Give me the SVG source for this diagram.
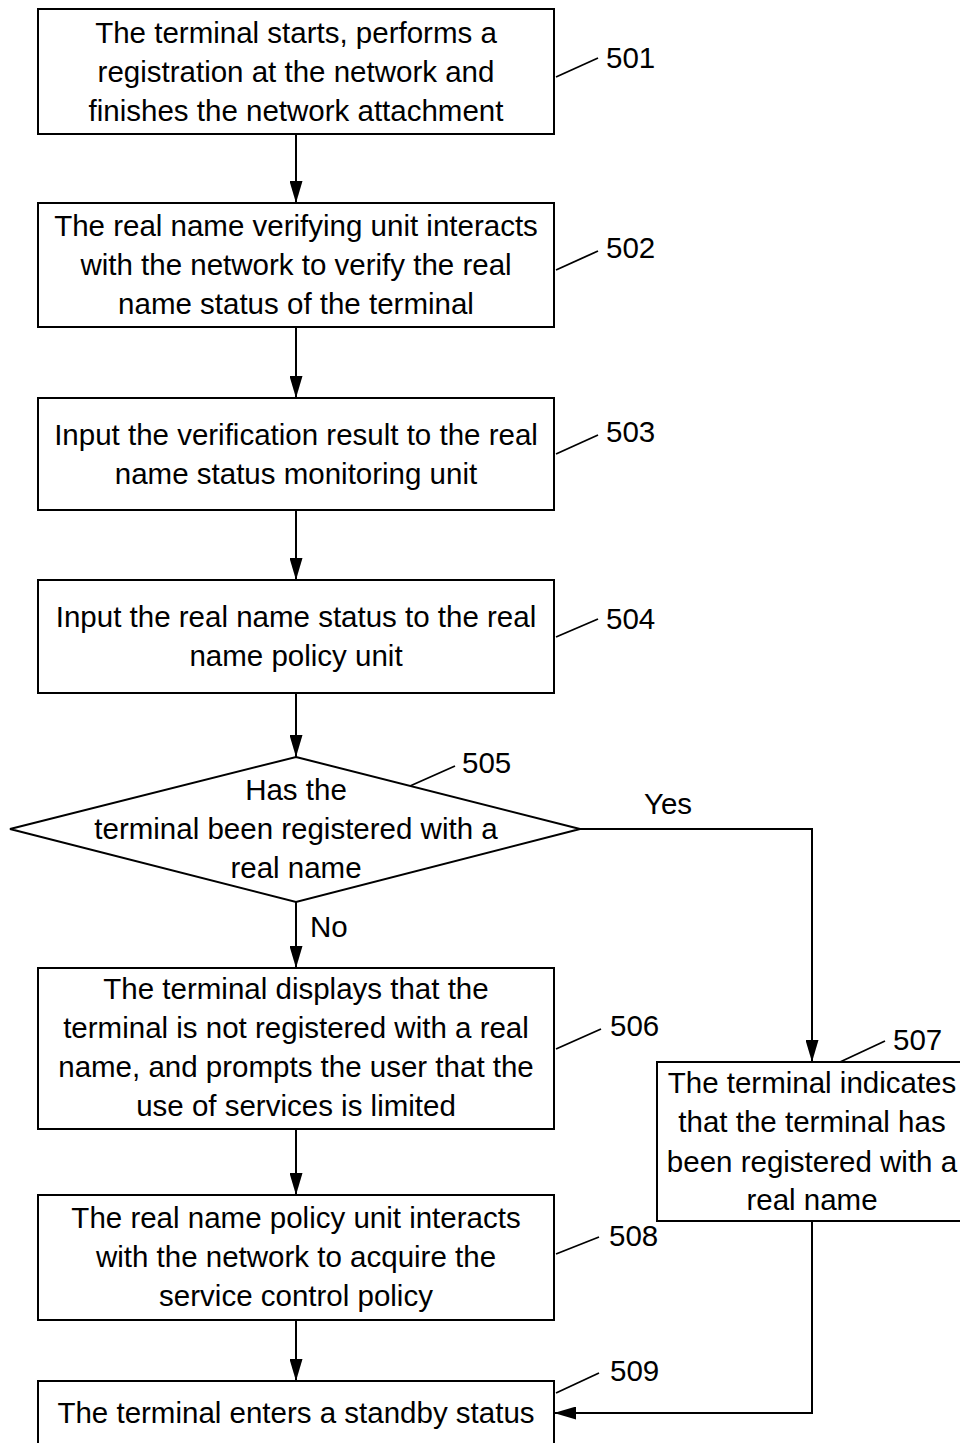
<svg xmlns="http://www.w3.org/2000/svg" width="960" height="1443" viewBox="0 0 960 1443">
<style>
.box{fill:#fff;stroke:#000;stroke-width:2}
.t{font-family:"Liberation Sans",Arial,sans-serif;font-size:29.5px;fill:#000;text-anchor:middle}
.l{font-family:"Liberation Sans",Arial,sans-serif;font-size:29.5px;fill:#000}
.c{fill:none;stroke:#000;stroke-width:2}
.ld{fill:none;stroke:#000;stroke-width:1.8}
</style>
<defs>
<marker id="ah" markerUnits="userSpaceOnUse" markerWidth="22" markerHeight="13" refX="22" refY="6.5" viewBox="0 0 22 13" orient="auto">
<path d="M0,0 L22,6.5 L0,13 Z" fill="#000"/>
</marker>
</defs>
<rect width="960" height="1443" fill="#fff"/>
<g id="connectors">
<line class="c" x1="296" y1="134" x2="296" y2="203" marker-end="url(#ah)"/>
<line class="c" x1="296" y1="327" x2="296" y2="398" marker-end="url(#ah)"/>
<line class="c" x1="296" y1="510" x2="296" y2="580" marker-end="url(#ah)"/>
<line class="c" x1="296" y1="693" x2="296" y2="757" marker-end="url(#ah)"/>
<line class="c" x1="296" y1="902" x2="296" y2="968" marker-end="url(#ah)"/>
<polyline class="c" points="580,829 812,829 812,1062" marker-end="url(#ah)"/>
<line class="c" x1="296" y1="1129" x2="296" y2="1195" marker-end="url(#ah)"/>
<line class="c" x1="296" y1="1320" x2="296" y2="1381" marker-end="url(#ah)"/>
<polyline class="c" points="812,1221 812,1413 554,1413" marker-end="url(#ah)"/>
<text class="l" x="644" y="814">Yes</text>
<text class="l" x="310" y="937">No</text>
</g>
<g id="n501">
<rect class="box" x="38" y="9" width="516" height="125"/>
<text class="t" x="296" y="43">The terminal starts, performs a</text>
<text class="t" x="296" y="82">registration at the network and</text>
<text class="t" x="296" y="121">finishes the network attachment</text>
<line class="ld" x1="556" y1="77" x2="598" y2="58"/>
<text class="l" x="606" y="68">501</text>
</g>
<g id="n502">
<rect class="box" x="38" y="203" width="516" height="124"/>
<text class="t" x="296" y="236">The real name verifying unit interacts</text>
<text class="t" x="296" y="275">with the network to verify the real</text>
<text class="t" x="296" y="314">name status of the terminal</text>
<line class="ld" x1="556" y1="270" x2="598" y2="251"/>
<text class="l" x="606" y="258">502</text>
</g>
<g id="n503">
<rect class="box" x="38" y="398" width="516" height="112"/>
<text class="t" x="296" y="445">Input the verification result to the real</text>
<text class="t" x="296" y="484">name status monitoring unit</text>
<line class="ld" x1="556" y1="454" x2="598" y2="435"/>
<text class="l" x="606" y="442">503</text>
</g>
<g id="n504">
<rect class="box" x="38" y="580" width="516" height="113"/>
<text class="t" x="296" y="627">Input the real name status to the real</text>
<text class="t" x="296" y="666">name policy unit</text>
<line class="ld" x1="556" y1="637" x2="598" y2="619"/>
<text class="l" x="606" y="629">504</text>
</g>
<g id="n505">
<polygon class="box" points="296,757 580,829 296,902 10,829"/>
<text class="t" x="296" y="800">Has the</text>
<text class="t" x="296" y="839">terminal been registered with a</text>
<text class="t" x="296" y="878">real name</text>
<line class="ld" x1="410" y1="786" x2="455" y2="766"/>
<text class="l" x="462" y="773">505</text>
</g>
<g id="n506">
<rect class="box" x="38" y="968" width="516" height="161"/>
<text class="t" x="296" y="999">The terminal displays that the</text>
<text class="t" x="296" y="1038">terminal is not registered with a real</text>
<text class="t" x="296" y="1077">name, and prompts the user that the</text>
<text class="t" x="296" y="1116">use of services is limited</text>
<line class="ld" x1="556" y1="1049" x2="601" y2="1029"/>
<text class="l" x="610" y="1036">506</text>
</g>
<g id="n507">
<rect class="box" x="657" y="1062" width="310" height="159"/>
<text class="t" x="812" y="1093">The terminal indicates</text>
<text class="t" x="812" y="1132">that the terminal has</text>
<text class="t" x="812" y="1172">been registered with a</text>
<text class="t" x="812" y="1210">real name</text>
<line class="ld" x1="840" y1="1062" x2="885" y2="1041"/>
<text class="l" x="893" y="1050">507</text>
</g>
<g id="n508">
<rect class="box" x="38" y="1195" width="516" height="125"/>
<text class="t" x="296" y="1228">The real name policy unit interacts</text>
<text class="t" x="296" y="1267">with the network to acquire the</text>
<text class="t" x="296" y="1306">service control policy</text>
<line class="ld" x1="556" y1="1254" x2="599" y2="1237"/>
<text class="l" x="609" y="1246">508</text>
</g>
<g id="n509">
<rect class="box" x="38" y="1381" width="516" height="80"/>
<text class="t" x="296" y="1423">The terminal enters a standby status</text>
<line class="ld" x1="556" y1="1393" x2="599" y2="1373"/>
<text class="l" x="610" y="1381">509</text>
</g>
</svg>
